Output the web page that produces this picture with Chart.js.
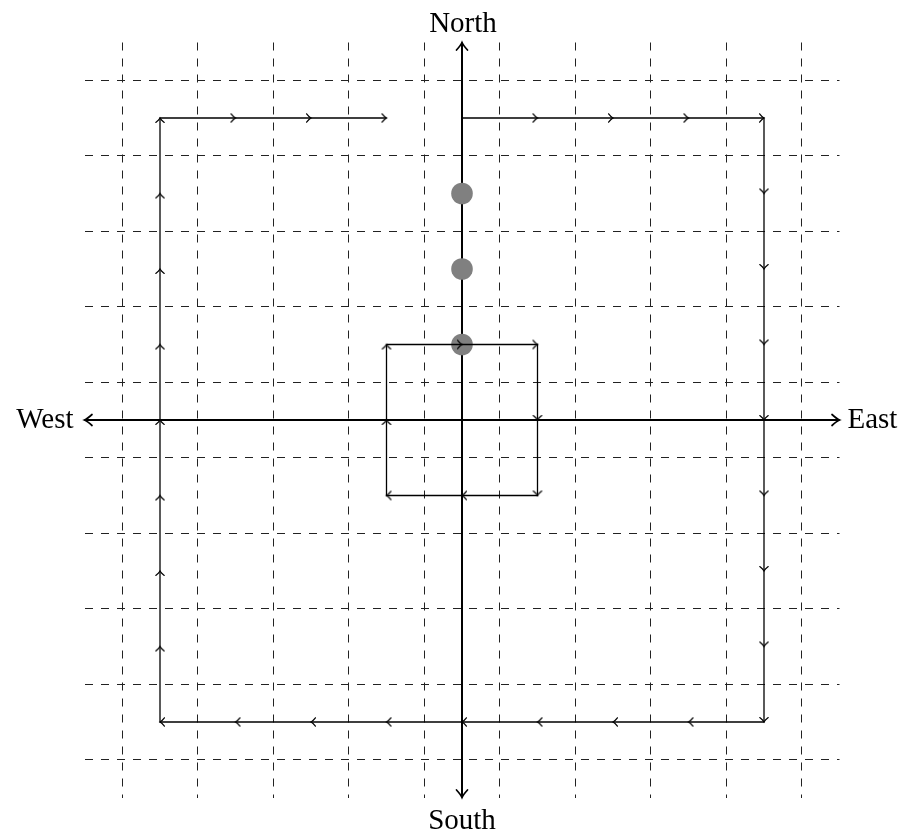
<!DOCTYPE html>
<html>
<head>
<meta charset="utf-8">
<script src="https://cdn.jsdelivr.net/npm/chart.js@4.4.1/dist/chart.umd.min.js"></script>
<style>
  html, body { margin: 0; padding: 0; background: #fff; }
  #compass { display: block; }
</style>
</head>
<body>
<canvas id="compass" width="914" height="840"></canvas>
<script>
// Axis range and dashed grid positions
const axisMin = -5;
const axisMax = 5;
const gridLines = [-4.5, -3.5, -2.5, -1.5, -0.5, 0.5, 1.5, 2.5, 3.5, 4.5];

// Outer spiral, one vertex per unit step (an arrow sits at each step end)
const outerX = [0, 1, 2, 3, 4, 4, 4, 4, 4, 4, 4, 4, 4, 3, 2, 1, 0, -1, -2, -3, -4, -4, -4, -4, -4, -4, -4, -4, -4, -3, -2, -1];
const outerY = [4, 4, 4, 4, 4, 3, 2, 1, 0, -1, -2, -3, -4, -4, -4, -4, -4, -4, -4, -4, -4, -3, -2, -1, 0, 1, 2, 3, 4, 4, 4, 4];

// Inner square loop
const innerX = [-1, 0, 1, 1, 1, 0, -1, -1, -1];
const innerY = [1, 1, 1, 0, -1, -1, -1, 0, 1];

// Grey markers on the north axis
const dotX = [0, 0, 0];
const dotY = [1, 2, 3];

// Compass labels
const labelNorth = 'North';
const labelSouth = 'South';
const labelEast = 'East';
const labelWest = 'West';

const toPoints = (xs, ys) => xs.map((v, i) => ({ x: v, y: ys[i] }));

// arrow marks at every step end, heading taken from the previous vertex
function stepArrows(xs, ys) {
    const pts = [];
    for (let i = 1; i < xs.length; i++) {
        const dx = xs[i] - xs[i - 1];
        const dy = ys[i] - ys[i - 1];
        pts.push({ x: xs[i], y: ys[i], angle: Math.atan2(-dy, dx) * 180 / Math.PI });
    }
    return pts;
}

// small chevron used as point style (tip at the centre, pointing right)
const chevron = document.createElement('canvas');
chevron.width = 16;
chevron.height = 16;
const cc = chevron.getContext('2d');
cc.strokeStyle = '#000';
cc.lineWidth = 1.25;
cc.lineCap = 'round';
cc.beginPath();
cc.moveTo(3.6, 3.8);
cc.quadraticCurveTo(6.2, 7.1, 8, 8);
cc.quadraticCurveTo(6.2, 8.9, 3.6, 12.2);
cc.stroke();

// axis arrow heads + direction labels
const compassDecor = {
    id: 'compassDecor',
    afterDatasetsDraw(chart) {
        const { ctx, scales: { x, y } } = chart;
        const ox = x.getPixelForValue(0);
        const oy = y.getPixelForValue(0);
        const left = x.getPixelForValue(axisMin);
        const right = x.getPixelForValue(axisMax);
        const top = y.getPixelForValue(axisMax);
        const bottom = y.getPixelForValue(axisMin);

        const heads = [
            [left, oy, -1, 0],
            [right, oy, 1, 0],
            [ox, top, 0, -1],
            [ox, bottom, 0, 1]
        ];
        ctx.save();
        ctx.strokeStyle = '#000';
        ctx.lineWidth = 1.7;
        ctx.lineCap = 'round';
        heads.forEach(([tx, ty, ux, uy]) => {
            const nx = -uy, ny = ux;
            ctx.beginPath();
            ctx.moveTo(tx - 7.5 * ux + 5.5 * nx, ty - 7.5 * uy + 5.5 * ny);
            ctx.quadraticCurveTo(tx - 2.5 * ux + 1 * nx, ty - 2.5 * uy + 1 * ny, tx, ty);
            ctx.quadraticCurveTo(tx - 2.5 * ux - 1 * nx, ty - 2.5 * uy - 1 * ny, tx - 7.5 * ux - 5.5 * nx, ty - 7.5 * uy - 5.5 * ny);
            ctx.stroke();
        });

        ctx.fillStyle = '#000';
        ctx.font = '29px "Liberation Serif", serif';
        ctx.textBaseline = 'alphabetic';
        ctx.textAlign = 'center';
        ctx.fillText(labelNorth, ox + 1, top - 11);
        ctx.fillText(labelSouth, ox, bottom + 31);
        ctx.textAlign = 'right';
        ctx.fillText(labelWest, left - 11, oy + 8);
        ctx.textAlign = 'left';
        ctx.fillText(labelEast, right + 8, oy + 8);
        ctx.restore();
    }
};

const gridScale = () => ({
    type: 'linear',
    min: axisMin,
    max: axisMax,
    afterBuildTicks: scale => {
        scale.ticks = gridLines.map(v => ({ value: v }));
    },
    ticks: { display: false },
    grid: { color: '#222', lineWidth: 1, drawTicks: false },
    border: { display: false, dash: [8, 8] }
});

const ctx = document.getElementById('compass').getContext('2d');
const compassChart = new Chart(ctx, {
    type: 'scatter',
    data: {
        datasets: [
            {
                // west-east axis
                data: [{ x: axisMin, y: 0 }, { x: axisMax, y: 0 }],
                showLine: true,
                borderColor: '#000',
                borderWidth: 2,
                pointRadius: 0,
                clip: false,
                order: 4
            },
            {
                // south-north axis
                data: [{ x: 0, y: axisMin }, { x: 0, y: axisMax }],
                showLine: true,
                borderColor: '#000',
                borderWidth: 2,
                pointRadius: 0,
                clip: false,
                order: 4
            },
            {
                data: toPoints(dotX, dotY),
                pointRadius: 10.8,
                pointBackgroundColor: '#808080',
                pointBorderWidth: 0,
                order: 3
            },
            {
                data: toPoints(outerX, outerY),
                showLine: true,
                borderColor: '#000',
                borderWidth: 1.3,
                pointRadius: 0,
                order: 2
            },
            {
                data: toPoints(innerX, innerY),
                showLine: true,
                borderColor: '#000',
                borderWidth: 1.3,
                pointRadius: 0,
                order: 2
            },
            {
                data: stepArrows(outerX, outerY).concat(stepArrows(innerX, innerY)),
                pointStyle: chevron,
                pointRadius: 5,
                pointRotation: c => c.raw ? c.raw.angle : 0,
                order: 1
            }
        ]
    },
    options: {
        responsive: false,
        animation: false,
        events: [],
        layout: { padding: { left: 84.5, right: 74.5, top: 42.5, bottom: 42.5 } },
        plugins: {
            legend: { display: false },
            tooltip: { enabled: false }
        },
        scales: {
            x: gridScale(),
            y: gridScale()
        }
    },
    plugins: [compassDecor]
});
</script>
</body>
</html>
